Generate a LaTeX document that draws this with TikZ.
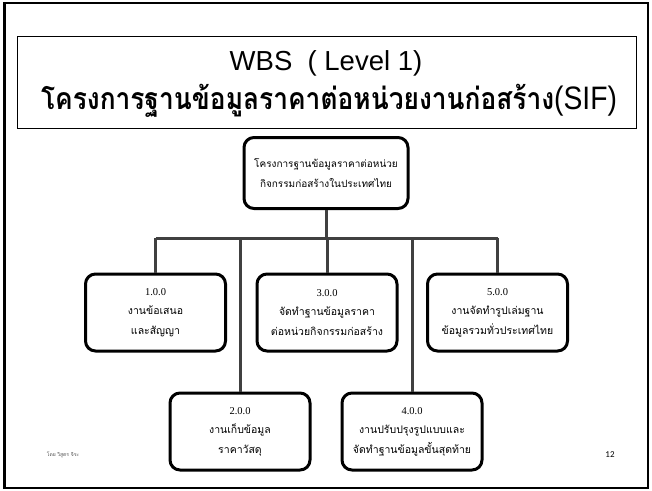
\documentclass[tikz,border=0pt]{standalone}
\usepackage{fontspec}
\setmainfont{Liberation Serif}
\setsansfont{Liberation Sans}
\newfontfamily\thaifont[Script=Thai]{Loma}
\newfontfamily\slidefont{Carlito}

\tikzset{
  wbsbox/.style={draw=black, line width=3pt, rounded corners=10pt, fill=white,
    align=center, inner sep=2pt,
    font=\thaifont\fontsize{10}{19.5}\selectfont},
  lvlbox/.style={wbsbox, minimum width=140pt, minimum height=77pt,
    font=\thaifont\fontsize{10.5}{19.5}\selectfont},
  link/.style={draw=black!75, line width=3pt},
}

\begin{document}
\begin{tikzpicture}[x=1pt,y=-1pt]
  \useasboundingbox (0,0) rectangle (652,490);
  % slide frame
  \draw[line width=2.5pt] (4.5,3) rectangle (648,488);

  % title block
  \node[draw, line width=1pt, minimum width=619pt, minimum height=92pt] (title) at (326.5,82) {};
  \node[font=\sffamily\fontsize{27.5}{32}\selectfont, inner sep=0pt] (titleA) at (326,63) {WBS\ \ ( Level 1)};
  \node[inner sep=0pt] (titleB) at (329,101)
    {\scalebox{0.975}[1.12]{{\thaifont\bfseries\fontsize{27}{32}\selectfont โครงการฐานข้อมูลราคาต่อหน่วยงานก่อสร้าง}{\sffamily\fontsize{29}{32}\selectfont(SIF)}}};

  % bus and drops
  \coordinate (busL) at (155.5,238);
  \coordinate (busR) at (497.5,238);

  \node[wbsbox, minimum width=164pt, minimum height=71pt] (root) at (326,173)
    {โครงการฐานข้อมูลราคาต่อหน่วย\\กิจกรรมก่อสร้างในประเทศไทย};

  \node[lvlbox] (w1) at (155.5,312.5) {{\rmfamily 1.0.0}\\งานข้อเสนอ\\และสัญญา};
  \node[lvlbox] (w3) at (327,312.5) {{\rmfamily 3.0.0}\\จัดทำฐานข้อมูลราคา\\ต่อหน่วยกิจกรรมก่อสร้าง};
  \node[lvlbox] (w5) at (497.5,312.5) {{\rmfamily 5.0.0}\\งานจัดทำรูปเล่มฐาน\\ข้อมูลรวมทั่วประเทศไทย};
  \node[lvlbox] (w2) at (240,431.5) {{\rmfamily 2.0.0}\\งานเก็บข้อมูล\\ราคาวัสดุ};
  \node[lvlbox] (w4) at (412,431.5) {{\rmfamily 4.0.0}\\งานปรับปรุงรูปแบบและ\\จัดทำฐานข้อมูลขั้นสุดท้าย};

  % connectors: horizontal bus with drops to each level-1 item
  \draw[link] (busL) -- (busR);
  \draw[link] (root.south) -- (root.south |- busL);
  \draw[link] (w1.north) -- (w1.north |- busL);
  \draw[link] (w3.north) -- (w3.north |- busL);
  \draw[link] (w5.north) -- (w5.north |- busL);
  \draw[link] (w2.north) -- (w2.north |- busL);
  \draw[link] (w4.north) -- (w4.north |- busL);

  % footer
  \node[font=\thaifont\fontsize{5}{6}\selectfont, text=black!70] (author) at (63,455) {โดย วิสูตร จิระ};
  \node[font=\slidefont\fontsize{9}{10}\selectfont] (page) at (610,455) {12};
\end{tikzpicture}
\end{document}
